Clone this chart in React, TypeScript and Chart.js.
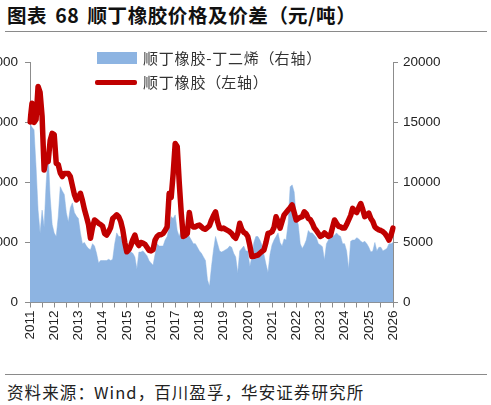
import { useEffect, useRef } from 'react';
import { Chart, registerables } from 'chart.js';

Chart.register(...registerables);

const YEARS = [2011, 2012, 2013, 2014, 2015, 2016, 2017, 2018, 2019, 2020, 2021, 2022, 2023, 2024, 2025];
const MONTHS = ['01', '02', '03', '04', '05', '06', '07', '08', '09', '10', '11', '12'];
const LAST_MONTH = '2026-01';

// 顺丁橡胶 price, yuan/ton (left axis), monthly 2011-01 .. 2026-01
const BR_PRICE = [
  30100, 33200, 30000, 30500, 36000, 35000, 31000, 22100, 24000, 23500, 27000, 28200,
  28000, 23200, 23000, 21600, 21000, 21500, 21500, 21500, 21000, 19500, 18000, 17100,
  17500, 18200, 17000, 15500, 14300, 13000, 10700, 12500, 13750, 13500, 13200, 13000,
  12700, 11500, 11250, 11800, 12500, 14000, 14300, 14600, 14300, 13500, 12100, 10000,
  8450, 8800, 9500, 10500, 11250, 10000, 9500, 10000, 9900, 9700, 9200, 8700,
  8600, 8800, 10400, 11000, 11300, 11300, 11500, 12000, 12600, 18200, 17500, 21500,
  26500, 26000, 20000, 14900, 11000, 11200, 11500, 15000, 13000, 12600, 12600, 12800,
  12900, 12600, 12300, 12200, 12500, 12800, 13750, 14500, 15100, 13500, 12400, 12300,
  12400, 12200, 12000, 11800, 11500, 11000, 10700, 11500, 13200, 12200, 11700, 11500,
  11000, 9500, 7650, 7700, 7800, 7900, 8200, 8500, 8750, 10000, 11500, 11600,
  11800, 12500, 14300, 13500, 12400, 13500, 14600, 15000, 15400, 15800, 16250, 15000,
  13750, 14000, 14200, 14300, 15100, 14800, 14000, 13800, 13200, 12400, 12000, 11500,
  11000, 11200, 11600, 11300, 11000, 11200, 12500, 13750, 13200, 12700, 12600, 12400,
  12400, 13000, 13750, 14500, 15700, 15200, 15000, 15800, 16500, 15500, 14300, 14600,
  14900, 14000, 13500, 12600, 12300, 12100, 12000, 11800, 11500, 11000, 10400, 11200,
  12400,
];

// 顺丁橡胶-丁二烯 spread, yuan/ton (right axis), monthly 2011-01 .. 2026-01
const BR_SPREAD = [
  14900, 14600, 14400, 11300, 7700, 5800, 7700, 6300, 9900, 12400, 8800, 6500,
  5800, 5500, 7150, 9650, 9300, 9000, 7500, 6700, 7900, 8300, 7500, 7200,
  7000, 5800, 4900, 5000, 4700, 4500, 4400, 4900, 4700, 4100, 3300, 3500,
  3500, 3500, 3500, 3600, 3500, 3600, 4900, 5800, 5500, 5500, 4900, 4600,
  4400, 4300, 4200, 4100, 3800, 2800, 4200, 4200, 4300, 4100, 3900, 3500,
  3300, 3100, 4000, 4900, 4700, 4700, 4700, 5200, 5500, 6300, 7150, 7000,
  7300, 6000, 5500, 6100, 5600, 5700, 5800, 5500, 5200, 4900, 4900, 4600,
  4300, 4100, 3800, 3500, 1900, 1350, 3000, 4400, 5500, 4900, 4300, 4200,
  4300, 4400, 4500, 4700, 4600, 4100, 3800, 2450, 4300, 4500, 4700, 4300,
  4300, 3000, 3800, 5000, 5500, 5500, 5200, 4800, 4000, 3200, 2500, 4000,
  4800, 5200, 5500, 5800, 5000, 4700, 5300, 5200, 6600, 9650, 9800, 9200,
  7100, 6500, 4900, 4500, 4800, 5200, 6000, 5800, 5800, 5600, 5400, 4900,
  4800, 4650, 3550, 4900, 5200, 5700, 5500, 5600, 5800, 5600, 5500, 4900,
  4900, 4300, 2800, 5100, 5200, 5200, 5400, 5300, 5100, 5000, 5100, 4900,
  4600, 4200, 4300, 5000, 4300, 4600, 4600, 4300, 4400, 4500, 4900, 4900,
  5000,
];

const CATEGORIES: string[] = [];
YEARS.forEach((y) => MONTHS.forEach((m) => CATEGORIES.push(`${y}-${m}`)));
CATEGORIES.push(LAST_MONTH);

const LEFT_MAX = 40000;
const LEFT_STEP = 10000;
const RIGHT_MAX = 20000;
const RIGHT_STEP = 5000;

const TITLE = '图表 68 顺丁橡胶价格及价差（元/吨）';
const SOURCE = '资料来源：Wind，百川盈孚，华安证券研究所';
const SERIES_SPREAD = '顺丁橡胶-丁二烯（右轴）';
const SERIES_PRICE = '顺丁橡胶（左轴）';

const BLUE = '#8DB4E2';
const RED = '#C00000';
const AXIS = '#8c8c8c';
const TXT = '#222';
const NUM_FONT = { family: '"Liberation Sans", Arial, sans-serif', size: 13.5 };
const CJK = '"Noto Sans CJK SC", "Noto Sans", sans-serif';

const plainNumber = (v: any) => String(v);

const textBase: any = {
  position: 'absolute',
  fontFamily: CJK,
  whiteSpace: 'nowrap',
};

// full-width punctuation kept at full em width
const OPEN = '（';
const CLOSE = '），：';
function FullWidth({ text }: { text: string }) {
  const parts: any[] = [];
  let buf = '';
  Array.from(text).forEach((ch, i) => {
    if (OPEN.includes(ch) || CLOSE.includes(ch)) {
      if (buf) parts.push(buf);
      buf = '';
      parts.push(
        <span
          key={i}
          style={{ display: 'inline-block', width: '1em', textAlign: OPEN.includes(ch) ? 'right' : 'left' }}
        >
          {ch}
        </span>
      );
    } else {
      buf += ch;
    }
  });
  if (buf) parts.push(buf);
  return <>{parts}</>;
}

export default function App() {
  const ref = useRef<HTMLCanvasElement | null>(null);

  useEffect(() => {
    if (!ref.current) return;
    const chart = new Chart(ref.current, {
      type: 'line',
      data: {
        labels: CATEGORIES,
        datasets: [
          {
            label: SERIES_PRICE,
            data: BR_PRICE,
            yAxisID: 'y',
            borderColor: RED,
            backgroundColor: RED,
            borderWidth: 5.5,
            pointRadius: 0,
            tension: 0,
            fill: false,
            order: 0,
            borderJoinStyle: 'round',
            borderCapStyle: 'round',
          },
          {
            label: SERIES_SPREAD,
            data: BR_SPREAD,
            yAxisID: 'y1',
            borderColor: BLUE,
            backgroundColor: BLUE,
            borderWidth: 0.5,
            pointRadius: 0,
            tension: 0,
            fill: 'origin',
            order: 1,
          },
        ],
      },
      options: {
        responsive: false,
        animation: false,
        layout: { padding: { top: 22.5, left: 0, right: 0, bottom: 0 } },
        plugins: { legend: { display: false }, tooltip: { enabled: false } },
        scales: {
          x: {
            type: 'category',
            offset: false,
            border: { display: true, color: AXIS, width: 1 },
            grid: {
              drawOnChartArea: false,
              drawTicks: true,
              tickLength: 5,
              tickColor: (ctx: any) => (ctx.index % 6 === 0 ? AXIS : 'rgba(0,0,0,0)'),
            },
            ticks: {
              autoSkip: false,
              maxRotation: 90,
              minRotation: 90,
              padding: 3,
              color: TXT,
              font: NUM_FONT,
              callback: (_v: any, i: number) => {
                const lab = CATEGORIES[i];
                return lab.endsWith('-01') ? lab.slice(0, 4) : '';
              },
            },
            afterFit: (s: any) => {
              s.height = 57.5;
            },
          },
          y: {
            position: 'left',
            min: 0,
            max: LEFT_MAX,
            border: { display: true, color: AXIS, width: 1 },
            grid: { drawOnChartArea: false, drawTicks: true, tickLength: 5, tickColor: AXIS },
            ticks: { stepSize: LEFT_STEP, padding: 7, color: TXT, font: NUM_FONT, callback: plainNumber },
            afterFit: (s: any) => {
              s.width = 70;
            },
          },
          y1: {
            position: 'right',
            min: 0,
            max: RIGHT_MAX,
            border: { display: true, color: AXIS, width: 1 },
            grid: { drawOnChartArea: false, drawTicks: true, tickLength: 5, tickColor: AXIS },
            ticks: { stepSize: RIGHT_STEP, padding: 5, color: TXT, font: NUM_FONT, callback: plainNumber },
            afterFit: (s: any) => {
              s.width = 98;
            },
          },
        },
      },
    } as any);
    return () => chart.destroy();
  }, []);

  return (
    <div
      lang="zh-CN"
      style={{
        position: 'fixed',
        left: 0,
        top: 0,
        width: 491,
        height: 405,
        overflow: 'hidden',
        background: '#fff',
      }}
    >
      <div
        style={{
          ...textBase,
          left: 7,
          top: 5,
          fontWeight: 700,
          fontSize: 19.5,
          lineHeight: '20px',
          wordSpacing: 3,
          letterSpacing: 0.6,
          color: '#111',
        }}
      >
        <FullWidth text={TITLE} />
      </div>
      <div style={{ position: 'absolute', left: 5, top: 30.5, width: 482, height: 1.5, background: '#8a8a8a' }} />
      <div style={{ position: 'absolute', left: -40, top: 40, width: 531, height: 320 }}>
        <canvas ref={ref} width={531} height={320} style={{ width: 531, height: 320, display: 'block' }} />
      </div>
      <div style={{ position: 'absolute', left: 97, top: 52, width: 40, height: 12, background: BLUE }} />
      <div
        style={{
          ...textBase,
          left: 143,
          top: 50,
          fontSize: 15,
          lineHeight: '16px',
          letterSpacing: 0.8,
          color: '#333',
        }}
      >
        <FullWidth text={SERIES_SPREAD} />
      </div>
      <div style={{ position: 'absolute', left: 95, top: 79.5, width: 42, height: 5.5, background: RED, borderRadius: 2 }} />
      <div
        style={{
          ...textBase,
          left: 143,
          top: 74,
          fontSize: 15,
          lineHeight: '16px',
          letterSpacing: 0.8,
          color: '#333',
        }}
      >
        <FullWidth text={SERIES_PRICE} />
      </div>
      <div style={{ position: 'absolute', left: 5, top: 373.5, width: 482, height: 1.5, background: '#8a8a8a' }} />
      <div
        style={{
          ...textBase,
          left: 7,
          top: 384,
          fontSize: 16.5,
          lineHeight: '17px',
          letterSpacing: 1.1,
          color: TXT,
        }}
      >
        <FullWidth text={SOURCE} />
      </div>
    </div>
  );
}
